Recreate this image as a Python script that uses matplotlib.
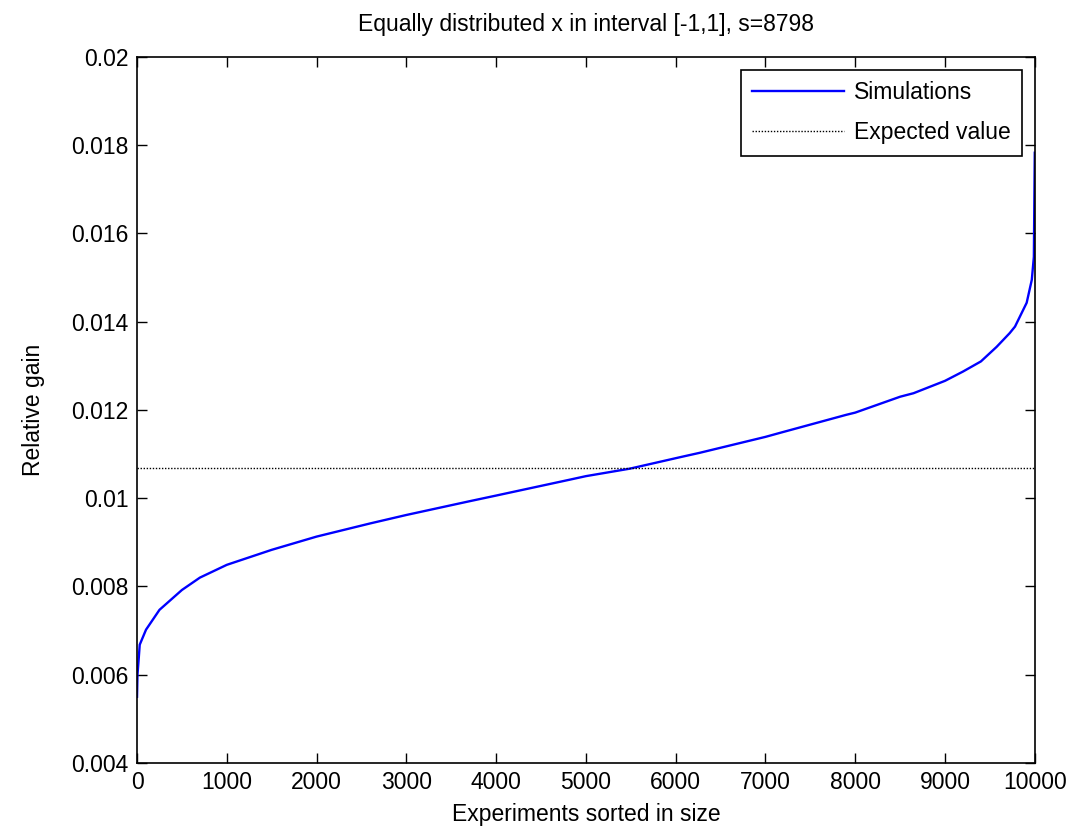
import matplotlib
matplotlib.use("Agg")
import matplotlib.pyplot as plt

exp_x = [0, 5, 20, 30, 100, 250, 500, 700, 1000, 1500, 2000, 2600, 3000, 3700, 4000,
         4820, 5000, 5490, 6050, 6270, 7000, 7160, 7900, 8000, 8500, 8650, 9000, 9200,
         9400, 9575, 9720, 9780, 9910, 9967, 9990, 10000]
gain = [0.0055, 0.0060, 0.0064, 0.00668, 0.00702, 0.00747, 0.00792, 0.0082, 0.00849,
        0.00883, 0.00913, 0.00943, 0.00962, 0.00993, 0.01006, 0.01042, 0.0105, 0.01067,
        0.01093, 0.01103, 0.01139, 0.01148, 0.01189, 0.01194, 0.0123, 0.01238, 0.01266,
        0.01287, 0.0131, 0.01343, 0.01374, 0.01389, 0.01443, 0.01495, 0.01547, 0.01783]
expected = 0.01069

x_ticks = [0, 1000, 2000, 3000, 4000, 5000, 6000, 7000, 8000, 9000, 10000]
y_ticks = [0.004, 0.006, 0.008, 0.01, 0.012, 0.014, 0.016, 0.018, 0.02]
y_labels = ["0.004", "0.006", "0.008", "0.01", "0.012", "0.014", "0.016", "0.018", "0.02"]

plt.rcParams["font.family"] = ["Liberation Sans", "DejaVu Sans"]
fs = 16.5

fig = plt.figure(figsize=(10.79, 8.32), dpi=100)
ax = fig.add_axes([0.127, 0.083, 0.832, 0.8485])

ax.plot(exp_x, gain, color="blue", lw=1.7, label="Simulations")
ax.axhline(expected, color="black", lw=1.0, ls=(0, (1, 1.2)), label="Expected value")

ax.set_xlim(0, 10000)
ax.set_ylim(0.004, 0.02)
ax.set_xticks(x_ticks)
ax.set_yticks(y_ticks)
ax.set_yticklabels(y_labels)
ax.tick_params(direction="in", top=True, right=True, length=7, width=1,
               labelsize=fs, pad=6)
for s in ax.spines.values():
    s.set_linewidth(1.2)

ax.set_title("Equally distributed x in interval [-1,1], s=8798", fontsize=fs, pad=19)
ax.set_xlabel("Experiments sorted in size", fontsize=fs, labelpad=6)
ax.set_ylabel("Relative gain", fontsize=fs, labelpad=19)

leg = ax.legend(loc="upper right", fontsize=fs, frameon=True, fancybox=False,
                edgecolor="black", framealpha=1, borderaxespad=0.55,
                handlelength=4.0, handletextpad=0.45, borderpad=0.5,
                labelspacing=0.75)
leg.get_frame().set_linewidth(1.2)

fig.savefig("out.png", dpi=100)
